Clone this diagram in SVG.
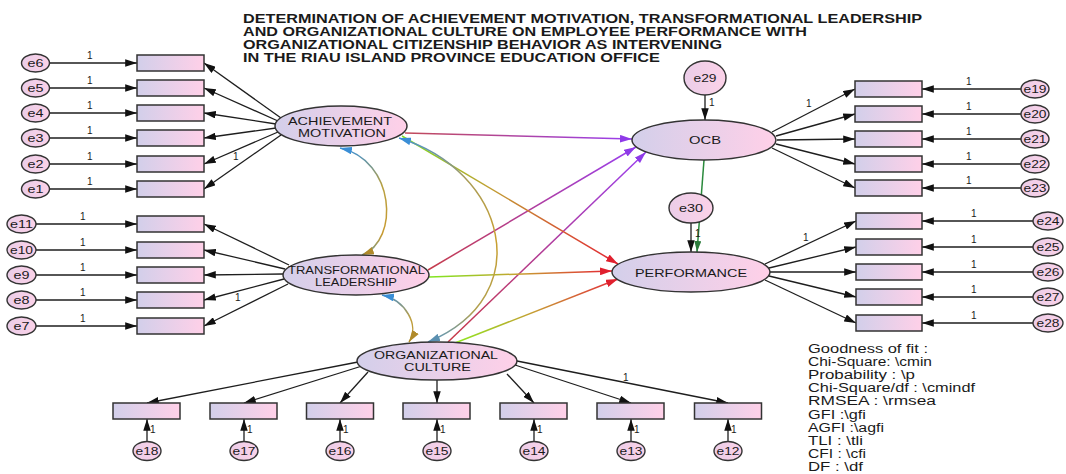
<svg xmlns="http://www.w3.org/2000/svg" width="1066" height="474" viewBox="0 0 1066 474">
<style>
text{font-family:"Liberation Sans",Arial,sans-serif;fill:#1a1a1a}
.t{font-weight:bold;font-size:12px}
.lat{font-size:11.5px;text-anchor:middle}
.el{font-size:11px;text-anchor:middle}
.one{font-size:10px}
.leg{font-size:12px}
.ind{fill:url(#gRect);stroke:#333;stroke-width:1.5}
.lv{fill:url(#gLat);stroke:#333;stroke-width:1.5}
.err{fill:url(#gErr);stroke:#333;stroke-width:1.4}
.ar{stroke:#1e1e1e;stroke-width:1.3;fill:none;marker-end:url(#mk)}
.cp{stroke-width:1.5;fill:none}
</style>
<defs>
<linearGradient id="gRect" x1="0" y1="0" x2="1" y2="0"><stop offset="0" stop-color="#d2cfea"/><stop offset="1" stop-color="#ffd0e8"/></linearGradient>
<linearGradient id="gLat" x1="0" y1="0" x2="1" y2="0"><stop offset="0" stop-color="#d3cfea"/><stop offset="1" stop-color="#ffd0e8"/></linearGradient>
<linearGradient id="gErr" x1="0" y1="0" x2="1" y2="0"><stop offset="0" stop-color="#ebcde8"/><stop offset="1" stop-color="#fbd2e8"/></linearGradient>
<marker id="mk" viewBox="0 0 11 7" refX="11" refY="3.5" markerWidth="12" markerHeight="7.5" markerUnits="userSpaceOnUse" orient="auto"><path d="M0,0 L11,3.5 L0,7 z" fill="#111"/></marker>
<marker id="mkP" viewBox="0 0 11 7" refX="11" refY="3.5" markerWidth="12" markerHeight="8" markerUnits="userSpaceOnUse" orient="auto"><path d="M0,0 L11,3.5 L0,7 z" fill="#8f3ae8"/></marker>
<marker id="mkR" viewBox="0 0 11 7" refX="11" refY="3.5" markerWidth="12" markerHeight="8" markerUnits="userSpaceOnUse" orient="auto"><path d="M0,0 L11,3.5 L0,7 z" fill="#e0202e"/></marker>
<marker id="mkG" viewBox="0 0 11 7" refX="11" refY="3.5" markerWidth="11" markerHeight="7" markerUnits="userSpaceOnUse" orient="auto"><path d="M0,0 L11,3.5 L0,7 z" fill="#2a7a3a"/></marker>
<marker id="mkB" viewBox="0 0 11 7" refX="11" refY="3.5" markerWidth="12" markerHeight="8" markerUnits="userSpaceOnUse" orient="auto-start-reverse"><path d="M0,0 L11,3.5 L0,7 z" fill="#3a8ed6"/></marker>
<marker id="mkY" viewBox="0 0 11 7" refX="11" refY="3.5" markerWidth="12" markerHeight="8" markerUnits="userSpaceOnUse" orient="auto"><path d="M0,0 L11,3.5 L0,7 z" fill="#b08a2a"/></marker>
<marker id="mkS" viewBox="0 0 11 7" refX="11" refY="3.5" markerWidth="12" markerHeight="8" markerUnits="userSpaceOnUse" orient="auto"><path d="M0,0 L11,3.5 L0,7 z" fill="#5a8fb0"/></marker>
<linearGradient id="gAO" gradientUnits="userSpaceOnUse" x1="405" y1="133" x2="632" y2="139"><stop offset="0" stop-color="#c24a58"/><stop offset="1" stop-color="#9a3ff0"/></linearGradient>
<linearGradient id="gTO" gradientUnits="userSpaceOnUse" x1="428" y1="270" x2="636" y2="147"><stop offset="0" stop-color="#c63c4a"/><stop offset="1" stop-color="#9a3ff0"/></linearGradient>
<linearGradient id="gCO" gradientUnits="userSpaceOnUse" x1="448" y1="342" x2="646" y2="152"><stop offset="0" stop-color="#c83844"/><stop offset="1" stop-color="#9a3ff0"/></linearGradient>
<linearGradient id="gAP" gradientUnits="userSpaceOnUse" x1="402" y1="136" x2="618" y2="264"><stop offset="0" stop-color="#7de020"/><stop offset="0.4" stop-color="#c0a032"/><stop offset="1" stop-color="#e42434"/></linearGradient>
<linearGradient id="gTP" gradientUnits="userSpaceOnUse" x1="429" y1="277" x2="612" y2="271"><stop offset="0" stop-color="#7fe820"/><stop offset="0.5" stop-color="#c8a032"/><stop offset="1" stop-color="#e42434"/></linearGradient>
<linearGradient id="gCP" gradientUnits="userSpaceOnUse" x1="455" y1="343" x2="618" y2="279"><stop offset="0" stop-color="#8ee820"/><stop offset="0.5" stop-color="#c89a34"/><stop offset="1" stop-color="#e42a3a"/></linearGradient>
<linearGradient id="gAT" gradientUnits="userSpaceOnUse" x1="0" y1="148" x2="0" y2="256"><stop offset="0" stop-color="#3b8fd6"/><stop offset="0.35" stop-color="#b8a040"/><stop offset="0.8" stop-color="#c89a30"/><stop offset="1" stop-color="#6a9a9a"/></linearGradient>
<linearGradient id="gTC" gradientUnits="userSpaceOnUse" x1="0" y1="294" x2="0" y2="343"><stop offset="0" stop-color="#4a8fc8"/><stop offset="0.5" stop-color="#c0a040"/><stop offset="1" stop-color="#b8902a"/></linearGradient>
<linearGradient id="gAC" gradientUnits="userSpaceOnUse" x1="0" y1="138" x2="0" y2="342"><stop offset="0" stop-color="#4a92d0"/><stop offset="0.2" stop-color="#a89c58"/><stop offset="0.5" stop-color="#c9a030"/><stop offset="0.85" stop-color="#b0a050"/><stop offset="1" stop-color="#5a96c0"/></linearGradient>
</defs>
<rect x="0" y="0" width="1066" height="474" fill="#ffffff"/>

<g id="title">
<text class="t" x="243" y="22.5" textLength="679" lengthAdjust="spacingAndGlyphs">DETERMINATION OF ACHIEVEMENT MOTIVATION, TRANSFORMATIONAL LEADERSHIP</text>
<text class="t" x="243" y="35.5" textLength="564" lengthAdjust="spacingAndGlyphs">AND ORGANIZATIONAL CULTURE ON EMPLOYEE PERFORMANCE WITH</text>
<text class="t" x="243" y="48.5" textLength="479" lengthAdjust="spacingAndGlyphs">ORGANIZATIONAL CITIZENSHIP BEHAVIOR AS INTERVENING</text>
<text class="t" x="243" y="61.5" textLength="417" lengthAdjust="spacingAndGlyphs">IN THE RIAU ISLAND PROVINCE EDUCATION OFFICE</text>
</g>

<g id="connectors">
<line class="ar" x1="49" y1="63" x2="137" y2="63"/>
<line class="ar" x1="49" y1="88" x2="137" y2="88"/>
<line class="ar" x1="49" y1="113" x2="137" y2="113"/>
<line class="ar" x1="49" y1="138" x2="137" y2="138"/>
<line class="ar" x1="49" y1="164" x2="137" y2="164"/>
<line class="ar" x1="49" y1="189" x2="137" y2="189"/>
<line class="ar" x1="281" y1="118" x2="204" y2="63"/>
<line class="ar" x1="278" y1="121" x2="204" y2="88"/>
<line class="ar" x1="276" y1="124" x2="204" y2="113"/>
<line class="ar" x1="276" y1="128" x2="204" y2="138"/>
<line class="ar" x1="278" y1="132" x2="204" y2="164"/>
<line class="ar" x1="281" y1="135" x2="204" y2="189"/>
<line class="ar" x1="36" y1="224" x2="137" y2="224"/>
<line class="ar" x1="36" y1="250" x2="137" y2="250"/>
<line class="ar" x1="36" y1="275" x2="137" y2="275"/>
<line class="ar" x1="36" y1="300" x2="137" y2="300"/>
<line class="ar" x1="36" y1="326" x2="137" y2="326"/>
<line class="ar" x1="289" y1="265" x2="204" y2="224"/>
<line class="ar" x1="285" y1="269" x2="204" y2="250"/>
<line class="ar" x1="283" y1="274" x2="204" y2="275"/>
<line class="ar" x1="284" y1="279" x2="204" y2="300"/>
<line class="ar" x1="288" y1="284" x2="204" y2="326"/>
<line class="ar" x1="772" y1="132" x2="855" y2="89"/>
<line class="ar" x1="776" y1="136" x2="855" y2="114"/>
<line class="ar" x1="777" y1="140" x2="855" y2="139"/>
<line class="ar" x1="776" y1="144" x2="855" y2="164"/>
<line class="ar" x1="772" y1="148" x2="855" y2="188"/>
<line class="ar" x1="1021" y1="89" x2="922" y2="89"/>
<line class="ar" x1="1021" y1="114" x2="922" y2="114"/>
<line class="ar" x1="1021" y1="139" x2="922" y2="139"/>
<line class="ar" x1="1021" y1="164" x2="922" y2="164"/>
<line class="ar" x1="1021" y1="188" x2="922" y2="188"/>
<line class="ar" x1="765" y1="264" x2="856" y2="221"/>
<line class="ar" x1="769" y1="268" x2="856" y2="247"/>
<line class="ar" x1="770" y1="272" x2="856" y2="272"/>
<line class="ar" x1="769" y1="276" x2="856" y2="297"/>
<line class="ar" x1="765" y1="280" x2="856" y2="323"/>
<line class="ar" x1="1033" y1="221" x2="922" y2="221"/>
<line class="ar" x1="1033" y1="247" x2="922" y2="247"/>
<line class="ar" x1="1033" y1="272" x2="922" y2="272"/>
<line class="ar" x1="1033" y1="297" x2="922" y2="297"/>
<line class="ar" x1="1033" y1="323" x2="922" y2="323"/>
<line class="ar" x1="358" y1="362" x2="147" y2="403"/>
<line class="ar" x1="362" y1="366" x2="244" y2="403"/>
<line class="ar" x1="368" y1="372" x2="340" y2="403"/>
<line class="ar" x1="437" y1="380" x2="437" y2="403"/>
<line class="ar" x1="507" y1="374" x2="534" y2="403"/>
<line class="ar" x1="515" y1="365" x2="631" y2="403"/>
<line class="ar" x1="517" y1="361" x2="728" y2="403"/>
<line class="ar" x1="147" y1="441.5" x2="147" y2="419"/>
<line class="ar" x1="244" y1="441.5" x2="244" y2="419"/>
<line class="ar" x1="340" y1="441.5" x2="340" y2="419"/>
<line class="ar" x1="437" y1="441.5" x2="437" y2="419"/>
<line class="ar" x1="534" y1="441.5" x2="534" y2="419"/>
<line class="ar" x1="631" y1="441.5" x2="631" y2="419"/>
<line class="ar" x1="728" y1="441.5" x2="728" y2="419"/>
<line class="ar" x1="705" y1="95" x2="705" y2="120"/>
<line class="ar" x1="691" y1="223" x2="691" y2="252"/>
<line class="cp" x1="405" y1="133" x2="632" y2="139" stroke="url(#gAO)" marker-end="url(#mkP)"/>
<line class="cp" x1="428" y1="270" x2="636" y2="147" stroke="url(#gTO)" marker-end="url(#mkP)"/>
<line class="cp" x1="448" y1="342" x2="646" y2="152" stroke="url(#gCO)" marker-end="url(#mkP)"/>
<line class="cp" x1="402" y1="136" x2="618" y2="264" stroke="url(#gAP)" marker-end="url(#mkR)"/>
<line class="cp" x1="429" y1="277" x2="612" y2="271" stroke="url(#gTP)" marker-end="url(#mkR)"/>
<line class="cp" x1="455" y1="343" x2="618" y2="279" stroke="url(#gCP)" marker-end="url(#mkR)"/>
<line class="cp" x1="704" y1="160" x2="697" y2="252" stroke="#2a8a3c" marker-end="url(#mkG)"/>
<path class="cp" d="M340,148 C395,160 400,240 362,255" stroke="url(#gAT)" marker-start="url(#mkB)" marker-end="url(#mkY)"/>
<path class="cp" d="M382,295 C405,300 420,325 409,342" stroke="url(#gTC)" marker-start="url(#mkB)" marker-end="url(#mkY)"/>
<path class="cp" d="M399,138 C505,170 540,295 428,342" stroke="url(#gAC)" marker-start="url(#mkB)" marker-end="url(#mkS)"/>
<text class="one" x="87" y="59">1</text>
<text class="one" x="87" y="84">1</text>
<text class="one" x="87" y="109">1</text>
<text class="one" x="87" y="134">1</text>
<text class="one" x="87" y="160">1</text>
<text class="one" x="87" y="185">1</text>
<text class="one" x="233" y="160">1</text>
<text class="one" x="80" y="220">1</text>
<text class="one" x="80" y="246">1</text>
<text class="one" x="80" y="271">1</text>
<text class="one" x="80" y="296">1</text>
<text class="one" x="80" y="322">1</text>
<text class="one" x="235" y="301">1</text>
<text class="one" x="966" y="85">1</text>
<text class="one" x="966" y="110">1</text>
<text class="one" x="966" y="135">1</text>
<text class="one" x="966" y="160">1</text>
<text class="one" x="966" y="184">1</text>
<text class="one" x="806" y="107">1</text>
<text class="one" x="971" y="217">1</text>
<text class="one" x="971" y="243">1</text>
<text class="one" x="971" y="268">1</text>
<text class="one" x="971" y="293">1</text>
<text class="one" x="971" y="319">1</text>
<text class="one" x="803" y="241">1</text>
<text class="one" x="623" y="381">1</text>
<text class="one" x="709" y="106">1</text>
<text class="one" x="695" y="237">1</text>
<text class="one" x="150" y="433">1</text>
<text class="one" x="247" y="433">1</text>
<text class="one" x="343" y="433">1</text>
<text class="one" x="440" y="433">1</text>
<text class="one" x="537" y="433">1</text>
<text class="one" x="634" y="433">1</text>
<text class="one" x="731" y="433">1</text>
</g>

<g id="AM"><ellipse class="lv" cx="341" cy="126" rx="66" ry="20"/><text class="lat" x="340" y="125" textLength="104" lengthAdjust="spacingAndGlyphs">ACHIEVEMENT</text><text class="lat" x="342" y="137" textLength="88" lengthAdjust="spacingAndGlyphs">MOTIVATION</text></g>
<g id="TL"><ellipse class="lv" cx="356" cy="275" rx="73" ry="20"/><text class="lat" x="356.5" y="273.5" textLength="137" lengthAdjust="spacingAndGlyphs">TRANSFORMATIONAL</text><text class="lat" x="356" y="285.5" textLength="82" lengthAdjust="spacingAndGlyphs">LEADERSHIP</text></g>
<g id="OC"><ellipse class="lv" cx="437" cy="361" rx="80" ry="19"/><text class="lat" x="436" y="359" textLength="124" lengthAdjust="spacingAndGlyphs">ORGANIZATIONAL</text><text class="lat" x="437.5" y="371" textLength="67" lengthAdjust="spacingAndGlyphs">CULTURE</text></g>
<g id="OCB"><ellipse class="lv" cx="704" cy="140" rx="72" ry="20"/><text class="lat" x="705" y="144" textLength="32" lengthAdjust="spacingAndGlyphs">OCB</text></g>
<g id="PERF"><ellipse class="lv" cx="691" cy="272" rx="79" ry="20"/><text class="lat" x="691" y="276.5" textLength="112" lengthAdjust="spacingAndGlyphs">PERFORMANCE</text></g>
<g id="e29"><ellipse class="err" cx="705" cy="78" rx="21" ry="17"/><text class="el" x="705" y="82" textLength="23" lengthAdjust="spacingAndGlyphs">e29</text></g>
<g id="e30"><ellipse class="err" cx="691" cy="208" rx="22" ry="15"/><text class="el" x="691" y="212" textLength="24" lengthAdjust="spacingAndGlyphs">e30</text></g>

<g id="x6"><rect class="ind" x="137" y="55" width="67" height="16"/></g>
<g id="x5"><rect class="ind" x="137" y="80" width="67" height="16"/></g>
<g id="x4"><rect class="ind" x="137" y="105" width="67" height="16"/></g>
<g id="x3"><rect class="ind" x="137" y="130" width="67" height="16"/></g>
<g id="x2"><rect class="ind" x="137" y="156" width="67" height="16"/></g>
<g id="x1"><rect class="ind" x="137" y="181" width="67" height="16"/></g>
<g id="x11"><rect class="ind" x="137" y="216" width="67" height="16"/></g>
<g id="x10"><rect class="ind" x="137" y="242" width="67" height="16"/></g>
<g id="x9"><rect class="ind" x="137" y="267" width="67" height="16"/></g>
<g id="x8"><rect class="ind" x="137" y="292" width="67" height="16"/></g>
<g id="x7"><rect class="ind" x="137" y="318" width="67" height="16"/></g>
<g id="x19"><rect class="ind" x="855" y="81" width="67" height="16"/></g>
<g id="x20"><rect class="ind" x="855" y="106" width="67" height="16"/></g>
<g id="x21"><rect class="ind" x="855" y="131" width="67" height="16"/></g>
<g id="x22"><rect class="ind" x="855" y="156" width="67" height="16"/></g>
<g id="x23"><rect class="ind" x="855" y="180" width="67" height="16"/></g>
<g id="x24"><rect class="ind" x="856" y="213" width="66" height="16"/></g>
<g id="x25"><rect class="ind" x="856" y="239" width="66" height="16"/></g>
<g id="x26"><rect class="ind" x="856" y="264" width="66" height="16"/></g>
<g id="x27"><rect class="ind" x="856" y="289" width="66" height="16"/></g>
<g id="x28"><rect class="ind" x="856" y="315" width="66" height="16"/></g>
<g id="x18"><rect class="ind" x="113" y="403" width="67" height="16"/></g>
<g id="x17"><rect class="ind" x="210" y="403" width="67" height="16"/></g>
<g id="x16"><rect class="ind" x="306.5" y="403" width="67" height="16"/></g>
<g id="x15"><rect class="ind" x="403" y="403" width="67" height="16"/></g>
<g id="x14"><rect class="ind" x="500" y="403" width="67" height="16"/></g>
<g id="x13"><rect class="ind" x="597" y="403" width="67" height="16"/></g>
<g id="x12"><rect class="ind" x="694.5" y="403" width="67" height="16"/></g>

<g id="e6"><ellipse class="err" cx="35.5" cy="63" rx="14" ry="9"/><text class="el" x="35.5" y="67" textLength="16" lengthAdjust="spacingAndGlyphs">e6</text></g>
<g id="e5"><ellipse class="err" cx="35.5" cy="88" rx="14" ry="9"/><text class="el" x="35.5" y="92" textLength="16" lengthAdjust="spacingAndGlyphs">e5</text></g>
<g id="e4"><ellipse class="err" cx="35.5" cy="113" rx="14" ry="9"/><text class="el" x="35.5" y="117" textLength="16" lengthAdjust="spacingAndGlyphs">e4</text></g>
<g id="e3"><ellipse class="err" cx="35.5" cy="138" rx="14" ry="9"/><text class="el" x="35.5" y="142" textLength="16" lengthAdjust="spacingAndGlyphs">e3</text></g>
<g id="e2"><ellipse class="err" cx="35.5" cy="164" rx="14" ry="9"/><text class="el" x="35.5" y="168" textLength="16" lengthAdjust="spacingAndGlyphs">e2</text></g>
<g id="e1"><ellipse class="err" cx="35.5" cy="189" rx="14" ry="9"/><text class="el" x="35.5" y="193" textLength="16" lengthAdjust="spacingAndGlyphs">e1</text></g>
<g id="e11"><ellipse class="err" cx="21.5" cy="224" rx="14.5" ry="9"/><text class="el" x="21.5" y="228" textLength="23" lengthAdjust="spacingAndGlyphs">e11</text></g>
<g id="e10"><ellipse class="err" cx="21.5" cy="250" rx="14.5" ry="9"/><text class="el" x="21.5" y="254" textLength="23" lengthAdjust="spacingAndGlyphs">e10</text></g>
<g id="e9"><ellipse class="err" cx="21.5" cy="275" rx="14.5" ry="9"/><text class="el" x="21.5" y="279" textLength="16" lengthAdjust="spacingAndGlyphs">e9</text></g>
<g id="e8"><ellipse class="err" cx="21.5" cy="300" rx="14.5" ry="9"/><text class="el" x="21.5" y="304" textLength="16" lengthAdjust="spacingAndGlyphs">e8</text></g>
<g id="e7"><ellipse class="err" cx="21.5" cy="326" rx="14.5" ry="9"/><text class="el" x="21.5" y="330" textLength="16" lengthAdjust="spacingAndGlyphs">e7</text></g>
<g id="e19"><ellipse class="err" cx="1035" cy="89" rx="14" ry="9"/><text class="el" x="1035" y="93" textLength="23" lengthAdjust="spacingAndGlyphs">e19</text></g>
<g id="e20"><ellipse class="err" cx="1035" cy="114" rx="14" ry="9"/><text class="el" x="1035" y="118" textLength="23" lengthAdjust="spacingAndGlyphs">e20</text></g>
<g id="e21"><ellipse class="err" cx="1035" cy="139" rx="14" ry="9"/><text class="el" x="1035" y="143" textLength="23" lengthAdjust="spacingAndGlyphs">e21</text></g>
<g id="e22"><ellipse class="err" cx="1035" cy="164" rx="14" ry="9"/><text class="el" x="1035" y="168" textLength="23" lengthAdjust="spacingAndGlyphs">e22</text></g>
<g id="e23"><ellipse class="err" cx="1035" cy="188" rx="14" ry="9"/><text class="el" x="1035" y="192" textLength="23" lengthAdjust="spacingAndGlyphs">e23</text></g>
<g id="e24"><ellipse class="err" cx="1048" cy="221" rx="15" ry="9"/><text class="el" x="1048" y="225" textLength="23" lengthAdjust="spacingAndGlyphs">e24</text></g>
<g id="e25"><ellipse class="err" cx="1048" cy="247" rx="15" ry="9"/><text class="el" x="1048" y="251" textLength="23" lengthAdjust="spacingAndGlyphs">e25</text></g>
<g id="e26"><ellipse class="err" cx="1048" cy="272" rx="15" ry="9"/><text class="el" x="1048" y="276" textLength="23" lengthAdjust="spacingAndGlyphs">e26</text></g>
<g id="e27"><ellipse class="err" cx="1048" cy="297" rx="15" ry="9"/><text class="el" x="1048" y="301" textLength="23" lengthAdjust="spacingAndGlyphs">e27</text></g>
<g id="e28"><ellipse class="err" cx="1048" cy="323" rx="15" ry="9"/><text class="el" x="1048" y="327" textLength="23" lengthAdjust="spacingAndGlyphs">e28</text></g>
<g id="e18"><ellipse class="err" cx="147" cy="451" rx="14" ry="9.5"/><text class="el" x="147" y="455" textLength="23" lengthAdjust="spacingAndGlyphs">e18</text></g>
<g id="e17"><ellipse class="err" cx="244" cy="451" rx="14" ry="9.5"/><text class="el" x="244" y="455" textLength="23" lengthAdjust="spacingAndGlyphs">e17</text></g>
<g id="e16"><ellipse class="err" cx="340" cy="451" rx="14" ry="9.5"/><text class="el" x="340" y="455" textLength="23" lengthAdjust="spacingAndGlyphs">e16</text></g>
<g id="e15"><ellipse class="err" cx="437" cy="451" rx="14" ry="9.5"/><text class="el" x="437" y="455" textLength="23" lengthAdjust="spacingAndGlyphs">e15</text></g>
<g id="e14"><ellipse class="err" cx="534" cy="451" rx="14" ry="9.5"/><text class="el" x="534" y="455" textLength="23" lengthAdjust="spacingAndGlyphs">e14</text></g>
<g id="e13"><ellipse class="err" cx="631" cy="451" rx="14" ry="9.5"/><text class="el" x="631" y="455" textLength="23" lengthAdjust="spacingAndGlyphs">e13</text></g>
<g id="e12"><ellipse class="err" cx="728" cy="451" rx="14" ry="9.5"/><text class="el" x="728" y="455" textLength="23" lengthAdjust="spacingAndGlyphs">e12</text></g>

<g id="legend">
<text class="leg" x="808" y="353" textLength="120" lengthAdjust="spacingAndGlyphs">Goodness of fit :</text>
<text class="leg" x="808" y="366.1" textLength="124" lengthAdjust="spacingAndGlyphs">Chi-Square: \cmin</text>
<text class="leg" x="808" y="379.2" textLength="107" lengthAdjust="spacingAndGlyphs">Probability : \p</text>
<text class="leg" x="808" y="392.3" textLength="167" lengthAdjust="spacingAndGlyphs">Chi-Square/df : \cmindf</text>
<text class="leg" x="808" y="405.4" textLength="128" lengthAdjust="spacingAndGlyphs">RMSEA : \rmsea</text>
<text class="leg" x="808" y="418.5" textLength="58" lengthAdjust="spacingAndGlyphs">GFI :\gfi</text>
<text class="leg" x="808" y="431.6" textLength="76" lengthAdjust="spacingAndGlyphs">AGFI :\agfi</text>
<text class="leg" x="808" y="444.7" textLength="55" lengthAdjust="spacingAndGlyphs">TLI : \tli</text>
<text class="leg" x="808" y="457.8" textLength="58" lengthAdjust="spacingAndGlyphs">CFI : \cfi</text>
<text class="leg" x="808" y="470.9" textLength="55" lengthAdjust="spacingAndGlyphs">DF : \df</text>
</g>
</svg>
